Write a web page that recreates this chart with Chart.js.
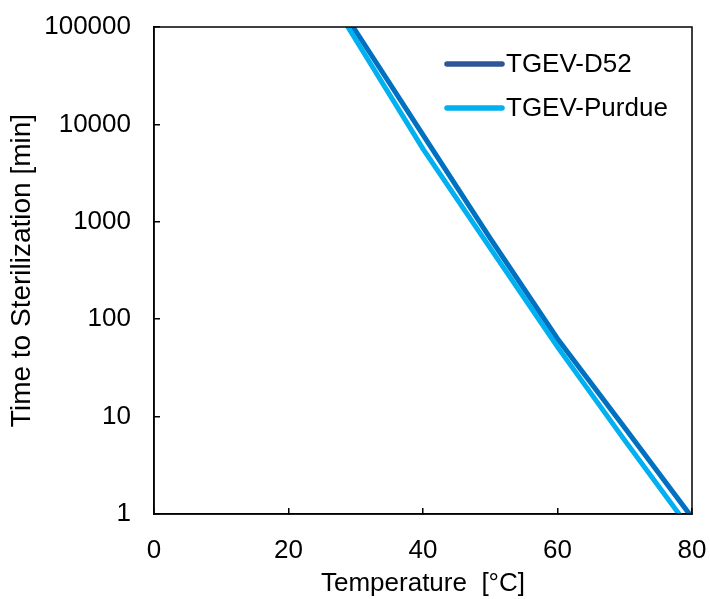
<!DOCTYPE html>
<html>
<head>
<meta charset="utf-8">
<title>Time to Sterilization vs Temperature</title>
<script src="https://cdn.jsdelivr.net/npm/chart.js@4.4.1/dist/chart.umd.min.js"></script>
<style>
  html, body { margin: 0; padding: 0; background: #fff; }
  canvas { display: block; }
</style>
</head>
<body>
<canvas id="chart" width="710" height="599"></canvas>
<script>
// Temperature points (°C) and time to sterilization (min) for each strain
const temperatures = [20, 30, 40, 50, 60, 70, 80];
const d52Minutes = [1050000, 91000, 7800, 676, 63, 7.7, 0.92];
const purdueMinutes = [1000000, 74000, 5600, 537, 52, 5.7, 0.66];

const xTicks = [0, 20, 40, 60, 80];
const yTicks = [1, 10, 100, 1000, 10000, 100000];

const seriesNames = ['TGEV-D52', 'TGEV-Purdue'];
const lineColors = ['#0070C0', '#00B0F0'];
const legendColors = ['#2F5597', '#00B0F0'];

const FONT = '"Liberation Sans", Arial, sans-serif';

const toPoints = (ys) => temperatures.map((t, i) => ({ x: t, y: ys[i] }));

// Box around the plot area
const framePlugin = {
  id: 'frame',
  afterDatasetsDraw(chart) {
    const { ctx, chartArea: a } = chart;
    ctx.save();
    ctx.strokeStyle = '#000';
    ctx.lineWidth = 1.5;
    ctx.strokeRect(a.left, a.top, a.right - a.left, a.bottom - a.top);
    ctx.restore();
  }
};

// Legend drawn inside the plot, top right
const insideLegend = {
  id: 'insideLegend',
  afterDraw(chart) {
    const { ctx, chartArea: a } = chart;
    ctx.save();
    ctx.font = '26px ' + FONT;
    ctx.textBaseline = 'middle';
    ctx.textAlign = 'left';
    ctx.lineCap = 'round';
    seriesNames.forEach((name, i) => {
      const y = a.top + 37 + i * 44;
      const x0 = a.left + 293;
      ctx.strokeStyle = legendColors[i];
      ctx.lineWidth = 5.5;
      ctx.beginPath();
      ctx.moveTo(x0, y);
      ctx.lineTo(x0 + 55, y);
      ctx.stroke();
      ctx.fillStyle = '#000';
      ctx.fillText(name, x0 + 59, y + 1);
    });
    ctx.restore();
  }
};

new Chart(document.getElementById('chart'), {
  type: 'line',
  data: {
    datasets: [
      {
        label: seriesNames[0],
        data: toPoints(d52Minutes),
        borderColor: lineColors[0],
        backgroundColor: lineColors[0],
        borderWidth: 5,
        pointRadius: 0,
        tension: 0,
        clip: 0,
        order: 1
      },
      {
        label: seriesNames[1],
        data: toPoints(purdueMinutes),
        borderColor: lineColors[1],
        backgroundColor: lineColors[1],
        borderWidth: 5,
        pointRadius: 0,
        tension: 0,
        clip: 0,
        order: 0
      }
    ]
  },
  options: {
    responsive: false,
    animation: false,
    events: [],
    layout: { padding: { top: 27, right: 18, left: 0, bottom: 0 } },
    plugins: {
      legend: { display: false },
      tooltip: { enabled: false }
    },
    scales: {
      x: {
        type: 'linear',
        min: 0,
        max: 80,
        afterFit(axis) {
          axis.height = 85;
          axis.paddingLeft = 0;
          axis.paddingRight = 0;
        },
        afterBuildTicks(axis) { axis.ticks = xTicks.map(v => ({ value: v })); },
        grid: { drawOnChartArea: false, drawTicks: true, tickLength: -6, color: '#000', lineWidth: 1.5 },
        border: { display: true, color: '#000', width: 1.5 },
        ticks: { color: '#000', font: { family: FONT, size: 26 }, padding: 27, maxRotation: 0 },
        title: {
          display: true,
          text: 'Temperature  [°C]',
          color: '#000',
          font: { family: FONT, size: 26 },
          padding: { top: 0, bottom: 0 }
        }
      },
      y: {
        type: 'logarithmic',
        min: 1,
        max: 100000,
        afterFit(axis) {
          axis.width = 154;
          axis.paddingTop = 0;
          axis.paddingBottom = 0;
        },
        afterBuildTicks(axis) { axis.ticks = yTicks.map(v => ({ value: v })); },
        grid: { drawOnChartArea: false, drawTicks: true, tickLength: -6, color: '#000', lineWidth: 1.5 },
        border: { display: true, color: '#000', width: 1.5 },
        ticks: {
          color: '#000',
          font: { family: FONT, size: 26 },
          padding: 29,
          callback: (v) => String(v)
        },
        title: {
          display: true,
          text: 'Time to Sterilization [min]',
          color: '#000',
          font: { family: FONT, size: 28 },
          padding: { top: 5, bottom: 0 }
        }
      }
    }
  },
  plugins: [framePlugin, insideLegend]
});
</script>
</body>
</html>
